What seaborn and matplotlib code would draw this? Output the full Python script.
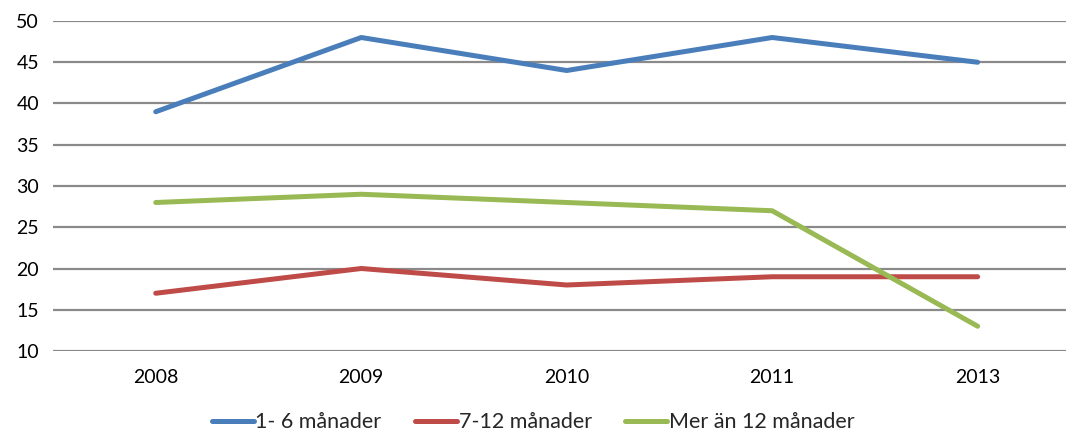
import pandas as pd
import seaborn as sns
import matplotlib.pyplot as plt

years = ["2008", "2009", "2010", "2011", "2013"]
series_names = ["1- 6 månader", "7-12 månader", "Mer än 12 månader"]
kort = [39, 48, 44, 48, 45]
mellan = [17, 20, 18, 19, 19]
lang = [28, 29, 28, 27, 13]
colors = ["#4A7EBB", "#BE4B48", "#98B954"]

rows = []
for name, vals in zip(series_names, [kort, mellan, lang]):
    for y, v in zip(years, vals):
        rows.append({"År": y, "Andel": v, "Grupp": name})
df = pd.DataFrame(rows)

sns.set_style("white")
plt.rcParams['font.family'] = ['Lato', 'DejaVu Sans']

fig = plt.figure(figsize=(10.66, 4.36), dpi=100)
ax = fig.add_axes([53 / 1066, 1 - 351 / 436, 1 - 53 / 1066, (351 - 21) / 436])

sns.lineplot(data=df, x="År", y="Andel", hue="Grupp", palette=colors,
             linewidth=3.6, ax=ax, legend=False, sort=False)
for line in ax.lines:
    line.set_solid_capstyle("round")

ax.set_ylim(10, 50)
ax.set_yticks(range(10, 51, 5))
ax.set_xlim(-0.5, 4.43)
ax.grid(axis="y", color="#8A8A8A", linewidth=1.6)
ax.set_axisbelow(True)
for s in ax.spines.values():
    s.set_visible(False)
ax.tick_params(axis="both", length=0, labelsize=14, colors="black")
ax.tick_params(axis="y", pad=10)
ax.tick_params(axis="x", pad=13)
ax.set_xlabel("")
ax.set_ylabel("")

handles = [plt.Line2D([], [], color=c, linewidth=3.6, solid_capstyle="round") for c in colors]
fig.legend(handles, series_names, loc="lower center", bbox_to_anchor=(0.5, -0.036),
           ncol=3, frameon=False, fontsize=15.5, handlelength=1.95,
           handletextpad=0.08, columnspacing=1.55)

fig.savefig("out.png", dpi=100)
